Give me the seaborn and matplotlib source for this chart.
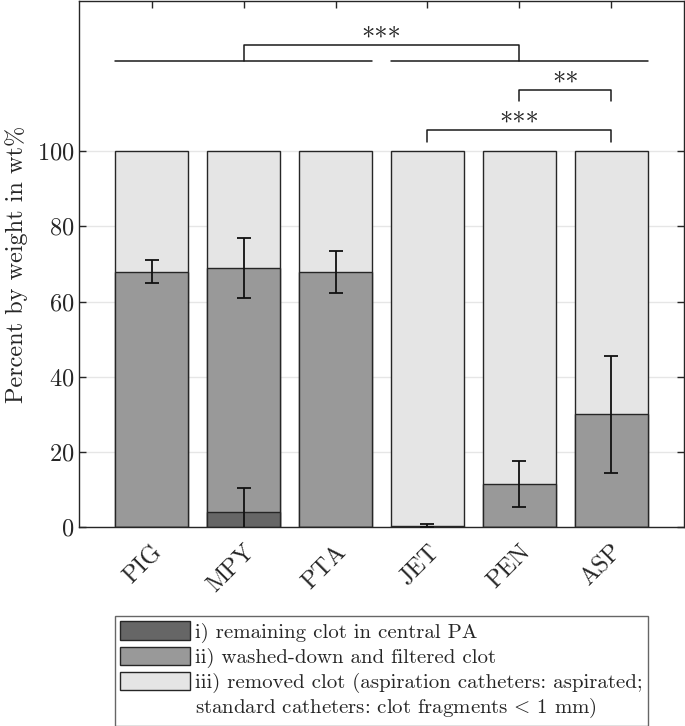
import numpy as np
import pandas as pd
import matplotlib
matplotlib.use("Agg")
import matplotlib.pyplot as plt
from matplotlib.patches import Patch
import seaborn as sns

# values (percent by weight, wt%)
categories = ["PIG", "MPY", "PTA", "JET", "PEN", "ASP"]
remaining = [0.0, 4.0, 0.0, 0.0, 0.0, 0.0]
remaining_err = [np.nan, 6.5, np.nan, np.nan, np.nan, np.nan]
washed = [68.0, 65.0, 67.9, 0.3, 11.4, 30.0]
washed_err = [3.0, 8.0, 5.5, 0.4, 6.2, 15.5]
removed = [100.0 - r - w for r, w in zip(remaining, washed)]

legend_labels = [
    "i) remaining clot in central PA",
    "ii) washed-down and filtered clot",
    "iii) removed clot (aspiration catheters: aspirated;",
    r"standard catheters: clot fragments$\,<\,$1 mm)",
]

# significance brackets: (x1, x2, y_leg, y_top, text)
brackets = [(3, 5, 102.5, 105.7, "***"), (4, 5, 113.4, 116.3, "**")]

df = pd.DataFrame({"cat": categories, "i": remaining, "ii": washed, "iii": removed})
df["top_ii"] = df["i"] + df["ii"]
df["top_iii"] = df["top_ii"] + df["iii"]

sns.set_style("ticks", {"xtick.direction": "in", "ytick.direction": "in"})
plt.rcParams["font.family"] = ["cmr10", "DejaVu Serif"]
plt.rcParams["mathtext.fontset"] = "cm"
plt.rcParams["axes.formatter.use_mathtext"] = True

c_i, c_ii, c_iii = "#666666", "#999999", "#e5e5e5"
edge = "#262626"

fig = plt.figure(figsize=(6.85, 7.26), dpi=100)
ax = fig.add_axes([79 / 685, 1 - 527 / 726, (684 - 79) / 685, 526 / 726])

# stacked look: draw cumulative heights from the back to the front
for col, c in [("top_iii", c_iii), ("top_ii", c_ii), ("i", c_i)]:
    sns.barplot(data=df, x="cat", y=col, color=c, saturation=1, width=0.8,
                edgecolor=edge, linewidth=1.0, ax=ax, zorder=2)

xpos = np.arange(len(categories))
ax.errorbar(xpos, df["top_ii"], yerr=washed_err, fmt="none", ecolor="#111111",
            elinewidth=1.3, capsize=5, capthick=1.3, zorder=4)
ax.errorbar(xpos, df["i"], yerr=remaining_err, fmt="none", ecolor="#111111",
            elinewidth=1.3, capsize=5, capthick=1.3, zorder=4)

ax.set_xlim(-0.79, 5.79)
ax.set_ylim(0, 140)
ax.set_yticks([0, 20, 40, 60, 80, 100])
ax.yaxis.grid(True, color="#e6e6e6", lw=1.0, zorder=0)
ax.set_axisbelow(True)
ax.set_xlabel("")
ax.set_ylabel("Percent by weight in wt%", fontsize=17.5, labelpad=6)
ax.tick_params(axis="both", which="both", direction="in", top=True, right=True,
               length=5, width=1, color=edge, labelsize=17.5)
ax.tick_params(axis="x", pad=10)
for lab in ax.get_xticklabels():
    lab.set_rotation(45)
    lab.set_ha("right")
    lab.set_va("top")
    lab.set_rotation_mode("anchor")
for s in ax.spines.values():
    s.set_visible(True)
    s.set_color(edge)
    s.set_linewidth(1.0)

# group comparison: standard vs aspiration catheters
lk = dict(color="#1a1a1a", lw=1.1, zorder=5)
ax.plot([-0.4, 2.4], [124, 124], **lk)
ax.plot([2.6, 5.4], [124, 124], **lk)
ax.plot([1, 1, 4, 4], [124, 128.3, 128.3, 124], **lk)
ax.text(2.5, 126.9, "***", ha="center", va="bottom", fontsize=19)
for x1, x2, yl, yt, t in brackets:
    ax.plot([x1, x1, x2, x2], [yl, yt, yt, yl], **lk)
    ax.text((x1 + x2) / 2, yt - 1.4, t, ha="center", va="bottom", fontsize=19)

handles = [
    Patch(facecolor=c_i, edgecolor=edge, lw=1),
    Patch(facecolor=c_ii, edgecolor=edge, lw=1),
    Patch(facecolor=c_iii, edgecolor=edge, lw=1),
    Patch(facecolor="none", edgecolor="none"),
]
leg = fig.legend(handles, legend_labels, loc="upper left",
                 bbox_to_anchor=(115 / 685, 1 - 616 / 726), fontsize=15,
                 frameon=True, fancybox=False, edgecolor="#404040",
                 handlelength=3.35, handleheight=0.96, handletextpad=0.25,
                 labelspacing=0.19, borderpad=0.26, borderaxespad=0)
leg.get_frame().set_linewidth(1.0)

fig.savefig("out.png", dpi=100)
